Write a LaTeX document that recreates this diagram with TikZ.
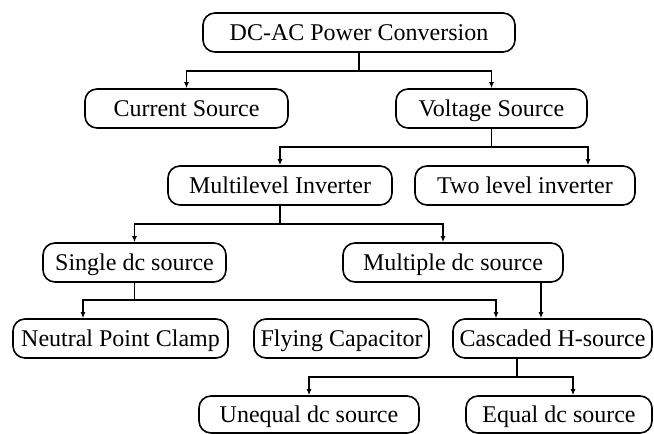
\documentclass[tikz,border=0pt]{standalone}
\usepackage{fontspec}
\setmainfont{Liberation Serif}
\usetikzlibrary{arrows.meta}
\tikzset{
  box/.style={draw, line width=1.6pt, rounded corners=12pt, inner sep=0pt,
    font=\fontsize{24}{28}\selectfont, align=center, text height=15.6pt, text depth=0pt},
  conn/.style={line width=1.5pt},
  arr/.style={line width=1.5pt, -{Latex[length=6pt,width=5pt]}}
}
\begin{document}
\begin{tikzpicture}[x=1pt,y=-1pt]
\useasboundingbox (0,0) rectangle (654,434);
% nodes
\node[box, minimum width=312pt, minimum height=39pt] (top) at (359,32.5) {DC-AC Power Conversion};
\node[box, minimum width=203pt, minimum height=39pt] (cur) at (186.5,108.5) {Current Source};
\node[box, minimum width=191pt, minimum height=39pt] (volt) at (491.5,108.5) {Voltage Source};
\node[box, minimum width=224pt, minimum height=39pt] (multi) at (280,185.5) {Multilevel Inverter};
\node[box, minimum width=220pt, minimum height=39pt] (two) at (525,185.5) {Two level inverter};
\node[box, minimum width=183pt, minimum height=39pt] (single) at (134.5,262.5) {Single dc source};
\node[box, minimum width=220pt, minimum height=39pt] (multiple) at (453,262.5) {Multiple dc source};
\node[box, minimum width=215pt, minimum height=39pt] (npc) at (120.5,338.5) {Neutral Point Clamp};
\node[box, minimum width=175pt, minimum height=39pt] (fly) at (341.5,338.5) {Flying Capacitor};
\node[box, minimum width=199pt, minimum height=39pt] (casc) at (552.5,338.5) {Cascaded H-source};
\node[box, minimum width=220pt, minimum height=37pt] (uneq) at (309,414.5) {Unequal dc source};
\node[box, minimum width=186pt, minimum height=37pt] (equal) at (559,414.5) {Equal dc source};
% junctions
\coordinate (j1) at (359,71);
\coordinate (j2) at (491.5,147);
\coordinate (j3) at (280,224);
\coordinate (j4) at (134.5,300);
\coordinate (c5) at ([xshift=-35.5pt]casc.south);
\coordinate (j5) at (517,377);
\coordinate (m1) at ([xshift=88pt]multiple.south);
% connectors
\draw[conn] (top.south) -- (j1);
\draw[arr] (j1) -| (cur.north);
\draw[arr] (j1) -| (volt.north);
\draw[conn] (volt.south) -- (j2);
\draw[arr] (j2) -| (multi.north);
\draw[arr] (j2) -| ([xshift=63pt]two.north);
\draw[conn] (multi.south) -- (j3);
\draw[arr] (j3) -| (single.north);
\draw[arr] (j3) -| ([xshift=-10pt]multiple.north);
\draw[conn] (single.south) -- (j4);
\draw[arr] (j4) -| ([xshift=-37.5pt]npc.north);
\draw[arr] (j4) -| ([xshift=-56.5pt]casc.north);
\draw[arr] (m1) -- (m1 |- casc.north);
\draw[conn] (c5) -- (j5);
\draw[arr] (j5) -| (uneq.north);
\draw[arr] (j5) -| ([xshift=14pt]equal.north);
\end{tikzpicture}
\end{document}
